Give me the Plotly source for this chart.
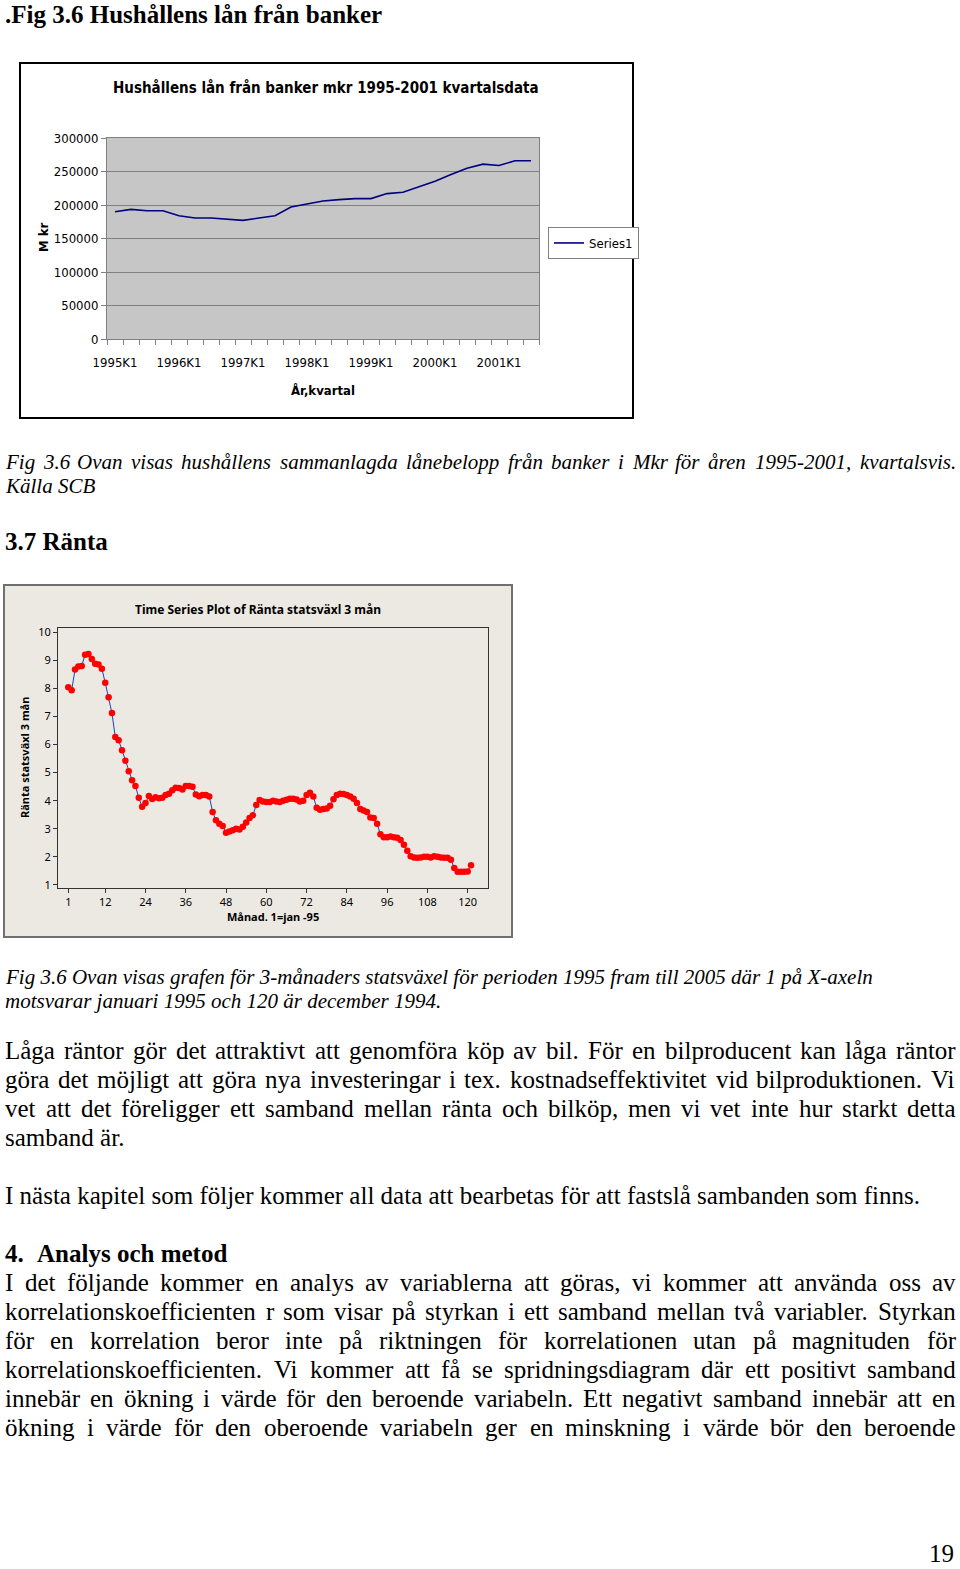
import plotly.graph_objects as go

W, H = 960, 1569

# ---------------- data ----------------
quarters = ["1995K1", "1995K2", "1995K3", "1995K4", "1996K1", "1996K2", "1996K3", "1996K4",
            "1997K1", "1997K2", "1997K3", "1997K4", "1998K1", "1998K2", "1998K3", "1998K4",
            "1999K1", "1999K2", "1999K3", "1999K4", "2000K1", "2000K2", "2000K3", "2000K4",
            "2001K1", "2001K2", "2001K3"]
loans_mkr = [190000, 193500, 191500, 191500, 184000, 180500, 180500, 179000, 177000, 180500,
             184000, 197000, 201000, 206000, 208000, 209500, 209500, 217000, 219000, 227500,
             235500, 245500, 255000, 261000, 259000, 266000, 266000]
quarter_ticks = ["1995K1", "1996K1", "1997K1", "1998K1", "1999K1", "2000K1", "2001K1"]

months = list(range(1, 122))
rate_3m = [8.04, 7.93, 8.67, 8.78, 8.80, 9.20, 9.22, 9.05, 8.88, 8.85,
           8.70, 8.20, 7.68, 7.12, 6.27, 6.15, 5.80, 5.42, 5.05, 4.73,
           4.52, 4.10, 3.78, 3.92, 4.17, 4.06, 4.12, 4.09, 4.10, 4.20,
           4.25, 4.37, 4.46, 4.45, 4.40, 4.52, 4.52, 4.50, 4.22, 4.16,
           4.20, 4.20, 4.15, 3.60, 3.30, 3.18, 3.10, 2.86, 2.90, 2.95,
           3.00, 2.97, 3.07, 3.22, 3.38, 3.48, 3.85, 4.02, 3.97, 3.95,
           3.95, 4.00, 3.97, 3.95, 4.00, 4.03, 4.07, 4.07, 4.04, 3.97,
           4.00, 4.20, 4.28, 4.15, 3.75, 3.68, 3.70, 3.72, 3.82, 4.05,
           4.20, 4.25, 4.24, 4.20, 4.15, 4.07, 3.92, 3.70, 3.65, 3.60,
           3.40, 3.38, 3.18, 2.80, 2.70, 2.70, 2.72, 2.70, 2.68, 2.60,
           2.43, 2.22, 2.02, 1.98, 1.97, 1.98, 2.00, 2.00, 1.98, 2.02,
           2.00, 1.98, 1.97, 1.97, 1.90, 1.60, 1.47, 1.47, 1.47, 1.48,
           1.70]
month_ticks = [1, 12, 24, 36, 48, 60, 72, 84, 96, 108, 120]
rate_ticks = [1, 2, 3, 4, 5, 6, 7, 8, 9, 10]

# ---------------- text ----------------
caption1 = ["Fig 3.6 Ovan visas hushållens sammanlagda lånebelopp från banker i Mkr för åren 1995-2001, kvartalsvis.",
            "Källa SCB"]
caption2 = ["Fig 3.6 Ovan visas grafen för 3-månaders statsväxel för perioden 1995 fram till 2005 där 1 på X-axeln",
            "motsvarar januari 1995 och 120 är december 1994."]
para1 = ["Låga räntor gör det attraktivt att genomföra köp av bil. För en bilproducent kan låga räntor",
         "göra det möjligt att göra nya investeringar i tex. kostnadseffektivitet vid bilproduktionen. Vi",
         "vet att det föreligger ett samband mellan ränta och bilköp, men vi vet inte hur starkt detta",
         "samband är."]
para2 = ["I nästa kapitel som följer kommer all data att bearbetas för att fastslå sambanden som finns."]
para3 = ["I det följande kommer en analys av variablerna att göras, vi kommer att använda oss av",
         "korrelationskoefficienten r som visar på styrkan i ett samband mellan två variabler. Styrkan",
         "för en korrelation beror inte på riktningen för korrelationen utan på magnituden för",
         "korrelationskoefficienten. Vi kommer att få se spridningsdiagram där ett positivt samband",
         "innebär en ökning i värde för den beroende variabeln. Ett negativt samband innebär att en",
         "ökning i värde för den oberoende variabeln ger en minskning i värde bör den beroende"]


def fx(p):
    return p / W


def fy(p):
    return 1 - p / H


SERIF = "Liberation Serif, Times New Roman, serif"
NARROW = "Liberation Sans Narrow, Arial Narrow, DejaVu Sans Condensed, Liberation Sans, sans-serif"
SANS = "Noto Sans, DejaVu Sans, sans-serif"

# Times-compatible advance widths (per 1000 em)
low = "abcdefghijklmnopqrstuvwxyz"
up = "ABCDEFGHIJKLMNOPQRSTUVWXYZ"
r_low = [444, 500, 444, 500, 444, 333, 500, 500, 278, 278, 500, 278, 778, 500, 500, 500, 500, 333, 389, 278, 500, 500, 722, 500, 500, 444]
r_up = [722, 667, 667, 722, 611, 556, 722, 722, 333, 389, 722, 611, 889, 722, 722, 556, 722, 667, 556, 611, 722, 722, 944, 722, 722, 611]
i_low = [500, 500, 444, 500, 444, 278, 500, 500, 278, 278, 444, 278, 722, 500, 500, 500, 500, 389, 389, 278, 500, 444, 667, 444, 444, 389]
i_up = [611, 611, 667, 722, 611, 611, 722, 722, 333, 444, 667, 556, 833, 667, 722, 611, 722, 611, 500, 556, 722, 611, 833, 611, 556, 556]


def make_table(lw, uw):
    t = {c: w for c, w in zip(low, lw)}
    t.update({c: w for c, w in zip(up, uw)})
    t.update({d: 500 for d in "0123456789"})
    t.update({" ": 250, ".": 250, ",": 250, "-": 333, ":": 278, "=": 564})
    for acc, base in [("å", "a"), ("ä", "a"), ("ö", "o"), ("Å", "A"), ("Ä", "A"), ("Ö", "O"), ("é", "e")]:
        t[acc] = t[base]
    return t


ROMAN = make_table(r_low, r_up)
ITALIC = make_table(i_low, i_up)

annotations = []


def txt(s, x, y, size, family=SERIF, style="normal", weight="normal", xanchor="left",
        angle=0, color="black", yanchor="middle"):
    annotations.append(dict(text=s, x=fx(x), y=fy(y), xref="paper", yref="paper",
                            xanchor=xanchor, yanchor=yanchor, showarrow=False,
                            borderpad=0, textangle=angle,
                            font=dict(family=family, size=size, style=style,
                                      weight=weight, color=color)))


def width(s, table, size):
    return sum(table.get(c, 500) for c in s) / 1000.0 * size


def justified(line, y, size, table, style="normal", left=4, right=955):
    words = line.split(" ")
    ws = [width(w, table, size) for w in words]
    gap = (right - left - sum(ws)) / (len(words) - 1)
    x = left
    for w, wd in zip(words, ws):
        txt(w, x, y, size, style=style)
        x += wd + gap


BODY = 25
CAP = 21

txt(".Fig 3.6 Hushållens lån från banker", 4, 14, BODY, weight="bold")
justified(caption1[0], 462, CAP, ITALIC, style="italic")
txt(caption1[1], 4, 486, CAP, style="italic")
txt("3.7 Ränta", 4, 541, BODY, weight="bold")
txt(caption2[0], 4, 977, CAP, style="italic")
txt(caption2[1], 4, 1001, CAP, style="italic")
for i, ln in enumerate(para1):
    y = 1050 + 29 * i
    if i < len(para1) - 1:
        justified(ln, y, BODY, ROMAN)
    else:
        txt(ln, 4, y, BODY)
txt(para2[0], 4, 1195, BODY)
txt("4.", 4, 1253, BODY, weight="bold")
txt("Analys och metod", 36, 1253, BODY, weight="bold")
for i, ln in enumerate(para3):
    justified(ln, 1282 + 29 * i, BODY, ROMAN)
txt("19", 955, 1568, BODY, xanchor="right", yanchor="bottom")

# chart texts
txt("Hushållens lån från banker mkr 1995-2001 kvartalsdata", 326, 88, 15, family=NARROW,
    weight="bold", xanchor="center")
txt("M kr", 44, 238, 13, family=NARROW, weight="bold", xanchor="center", angle=-90)
txt("År,kvartal", 323, 390, 13, family=NARROW, weight="bold", xanchor="center")
txt("Time Series Plot of Ränta statsväxl 3 mån", 258, 609, 12, family=SANS, weight="bold",
    xanchor="center")
txt("Ränta statsväxl 3 mån", 25, 758, 11, family=SANS, weight="bold", xanchor="center", angle=-90)
txt("Månad. 1=jan -95", 273, 916, 11, family=SANS, weight="bold", xanchor="center")

# ---------------- figure ----------------
fig = go.Figure()
qidx = list(range(len(quarters)))
fig.add_trace(go.Scatter(x=qidx, y=loans_mkr, mode="lines", name="Series1",
                         line=dict(color="#000080", width=1.6), xaxis="x", yaxis="y",
                         hovertext=quarters))
fig.add_trace(go.Scatter(x=months, y=rate_3m, mode="lines+markers", name="Ränta",
                         line=dict(color="#2040c0", width=1),
                         marker=dict(color="#ff0000", size=6.5, line=dict(width=0)),
                         xaxis="x2", yaxis="y2", showlegend=False))

shapes = [
    dict(type="rect", xref="paper", yref="paper", x0=fx(20), x1=fx(633), y0=fy(418), y1=fy(63),
         line=dict(color="black", width=2), fillcolor="white", layer="below"),
    dict(type="rect", xref="x domain", yref="y domain", x0=0, x1=1, y0=0, y1=1,
         line=dict(width=0), fillcolor="#C6C6C6", layer="below"),
    dict(type="rect", xref="paper", yref="paper", x0=fx(4), x1=fx(512), y0=fy(937), y1=fy(585),
         line=dict(color="#707070", width=2), fillcolor="#ECE9E3", layer="below"),
]

fig.update_layout(
    width=W, height=H, margin=dict(l=0, r=0, t=0, b=0, pad=0, autoexpand=False),
    paper_bgcolor="white", plot_bgcolor="white",
    showlegend=True,
    legend=dict(x=fx(548), y=fy(227), xanchor="left", yanchor="top",
                bordercolor="#808080", borderwidth=1, bgcolor="white",
                font=dict(family=NARROW, size=13, color="black"), itemwidth=30,
                tracegroupgap=0),
    xaxis=dict(domain=[fx(107), fx(539)], anchor="y", range=[-0.5, len(quarters) - 0.5],
               automargin=False,
               tickmode="array", tickvals=qidx[::4], ticktext=quarter_ticks,
               ticks="", showgrid=False, zeroline=False,
               showline=True, linecolor="#808080", linewidth=1, mirror=True,
               minor=dict(tickmode="linear", tick0=-0.5, dtick=1, ticks="outside",
                          ticklen=5, tickcolor="#808080", showgrid=False),
               tickfont=dict(family=NARROW, size=13, color="black"), ticklabelstandoff=11),
    yaxis=dict(domain=[fy(339), fy(138)], anchor="x", range=[0, 300000], dtick=50000, tick0=0,
               automargin=False,
               tickformat="d", ticks="outside", ticklen=5, tickcolor="#808080",
               showgrid=True, gridcolor="#808080", gridwidth=1, zeroline=False,
               showline=True, linecolor="#808080", linewidth=1, mirror=True,
               tickfont=dict(family=NARROW, size=13, color="black")),
    xaxis2=dict(domain=[fx(58), fx(488)], anchor="y2", range=[-2.07, 126.05],
                automargin=False,
                tickmode="array", tickvals=month_ticks, ticks="outside", ticklen=4,
                tickcolor="#333333", showgrid=False, zeroline=False,
                showline=True, linecolor="#333333", linewidth=1, mirror=True,
                tickfont=dict(family=SANS, size=11, color="black")),
    yaxis2=dict(domain=[fy(888), fy(628)], anchor="x2", range=[0.89, 10.15],
                automargin=False,
                tickmode="array", tickvals=rate_ticks, ticks="outside", ticklen=4,
                tickcolor="#333333", showgrid=False, zeroline=False,
                showline=True, linecolor="#333333", linewidth=1, mirror=True,
                tickfont=dict(family=SANS, size=11, color="black")),
    shapes=shapes,
    annotations=annotations,
)

fig.write_html("out.html")
